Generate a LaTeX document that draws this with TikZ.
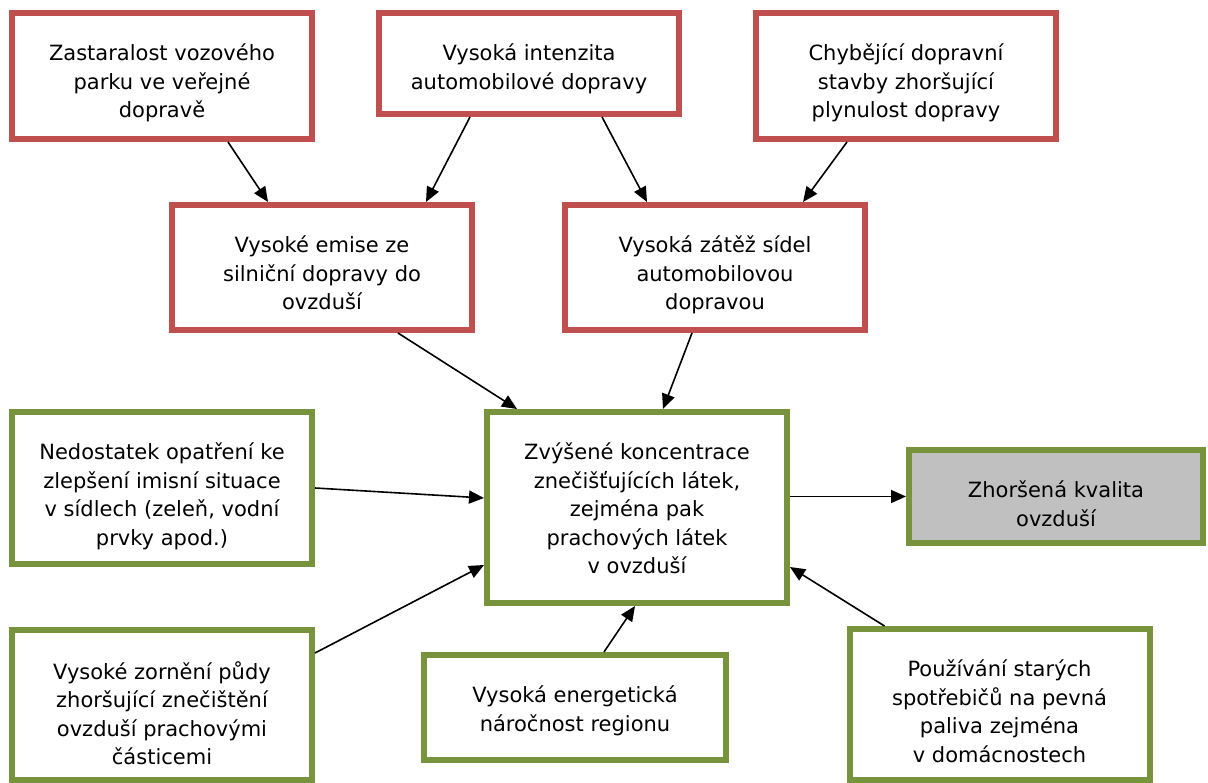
\documentclass[tikz,border=0pt]{standalone}
\usepackage{fontspec}
\setmainfont{DejaVu Sans}
\usetikzlibrary{arrows.meta, calc}
\definecolor{Red}{HTML}{C0504D}
\definecolor{Olive}{HTML}{77933C}
\definecolor{LGray}{HTML}{C0C0C0}
\tikzset{
    plainbox/.style={draw, line width=6pt, minimum width=300pt, inner sep=0pt, fill=white},
    redbox/.style={plainbox, draw=Red},
    greenbox/.style={plainbox, draw=Olive},
    boxtext/.style={align=center, inner sep=0pt, anchor=north, font=\fontsize{21pt}{28.5pt}\selectfont},
    arr/.style={line width=1.6pt, -{Triangle[length=15pt, width=13pt]}}
}
\NewDocumentCommand{\Problem}{O{redbox} m m m m}{
    \node[#1, minimum height=#4] (#2) at #3 {};
    \node[boxtext] (#2-text) at ([yshift=-34pt]#2.north) {#5};
}

\begin{document}
\begin{tikzpicture}[x=1pt, y=-1pt]
\useasboundingbox (0,0) rectangle (1208,783);

\Problem{fleet}{(162,76)}{126pt}{Zastaralost vozového\\parku ve veřejné\\dopravě}
\Problem{traffic}{(529,63.5)}{101pt}{Vysoká intenzita\\automobilové dopravy}
\Problem{roads}{(906,76)}{126pt}{Chybějící dopravní\\stavby zhoršující\\plynulost dopravy}

\Problem{emis}{(322,267.5)}{125pt}{Vysoké emise ze\\silniční dopravy do\\ovzduší}
\Problem{load}{(715,267.5)}{125pt}{Vysoká zátěž sídel\\automobilovou\\dopravou}

\Problem[greenbox]{measures}{(162,488)}{152pt}{Nedostatek opatření ke\\zlepšení imisní situace\\v sídlech (zeleň, vodní\\prvky apod.)}
\Problem[greenbox]{conc}{(637,507.5)}{191pt}{Zvýšené koncentrace\\znečišťujících látek,\\zejména pak\\prachových látek\\v ovzduší}
\Problem[greenbox, fill=LGray, minimum width=294pt]{quality}{(1056,496.5)}{93pt}{Zhoršená kvalita\\ovzduší}

\Problem[greenbox]{soil}{(162,705)}{150pt}{Vysoké zornění půdy\\zhoršující znečištění\\ovzduší prachovými\\částicemi}
\Problem[greenbox, minimum width=302pt]{energy}{(575,707.5)}{105pt}{Vysoká energetická\\náročnost regionu}
\Problem[greenbox]{stoves}{(999.5,704.5)}{151pt}{Používání starých\\spotřebičů na pevná\\paliva zejména\\v domácnostech}

\draw[arr] ([xshift=66pt]fleet.south) -- ([xshift=-54pt]emis.north);
\draw[arr] ([xshift=-59pt]traffic.south) -- ([xshift=104pt]emis.north);
\draw[arr] ([xshift=73pt]traffic.south) -- ([xshift=-68pt]load.north);
\draw[arr] ([xshift=-59pt]roads.south) -- ([xshift=88pt]load.north);

\draw[arr] ([xshift=76pt]emis.south) -- ([xshift=-120pt]conc.north);
\draw[arr] ([xshift=-23pt]load.south) -- ([xshift=26pt]conc.north);

\draw[arr] (measures.east) -- ([yshift=9.5pt]conc.west);
\draw[arr] ([yshift=52pt]soil.east) -- ([yshift=-57.5pt]conc.west);
\draw[arr] ([xshift=29pt]energy.north) -- ([xshift=-2pt]conc.south);
\draw[arr] ([xshift=-115pt]stoves.north) -- ([yshift=-59.5pt]conc.east);

\draw[arr] (conc.east |- quality.west) -- (quality.west);

\end{tikzpicture}
\end{document}
